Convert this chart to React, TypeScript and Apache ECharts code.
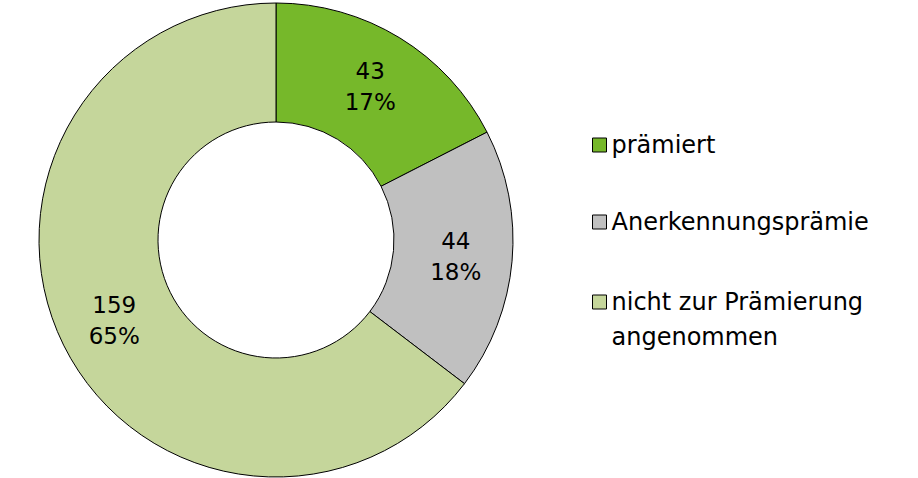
import React, { useEffect, useRef } from "react";
import * as echarts from "echarts";

const categories = ["prämiert", "Anerkennungsprämie", "nicht zur Prämierung\nangenommen"];
const values = [43, 44, 159];
const colors = ["#76b82a", "#c0c0c0", "#c5d69b"];

export default function App() {
  const ref = useRef<HTMLDivElement>(null);
  useEffect(() => {
    const chart = echarts.init(ref.current!, null, { renderer: "svg" });
    const font = "DejaVu Sans";
    const legendBase = {
      orient: "vertical" as const,
      left: 592,
      padding: 0,
      itemWidth: 14,
      itemHeight: 14,
      itemGap: 8,
      icon: "rect",
      selectedMode: false,
      itemStyle: { borderColor: "#000", borderWidth: 1 },
      textStyle: { fontFamily: font, fontSize: 24, color: "#000", lineHeight: 35 },
    };
    chart.setOption({
      animation: false,
      legend: [
        { ...legendBase, data: [categories[0]], top: 127.5 },
        { ...legendBase, data: [categories[1]], top: 204.5 },
        {
          ...legendBase,
          data: [categories[2]],
          top: 249.5,
          formatter: (name: string) => "\n" + name,
        },
      ],
      series: [
        {
          type: "pie",
          center: [276, 240],
          radius: [118, 237],
          startAngle: 90,
          clockwise: true,
          avoidLabelOverlap: false,
          itemStyle: { borderColor: "#000", borderWidth: 1 },
          label: {
            show: true,
            position: "inside",
            fontFamily: font,
            fontSize: 23,
            lineHeight: 31,
            color: "#000",
            formatter: (p: any) => `${p.value}\n${Math.round(p.percent)}%`,
          },
          labelLine: { show: false },
          emphasis: { disabled: true },
          data: categories.map((name, i) => ({
            name,
            value: values[i],
            itemStyle: { color: colors[i] },
          })),
        },
      ],
    });
    return () => chart.dispose();
  }, []);
  return (
    <div
      ref={ref}
      style={{ position: "fixed", left: 0, top: 0, width: 918, height: 478, background: "#fff" }}
    />
  );
}
